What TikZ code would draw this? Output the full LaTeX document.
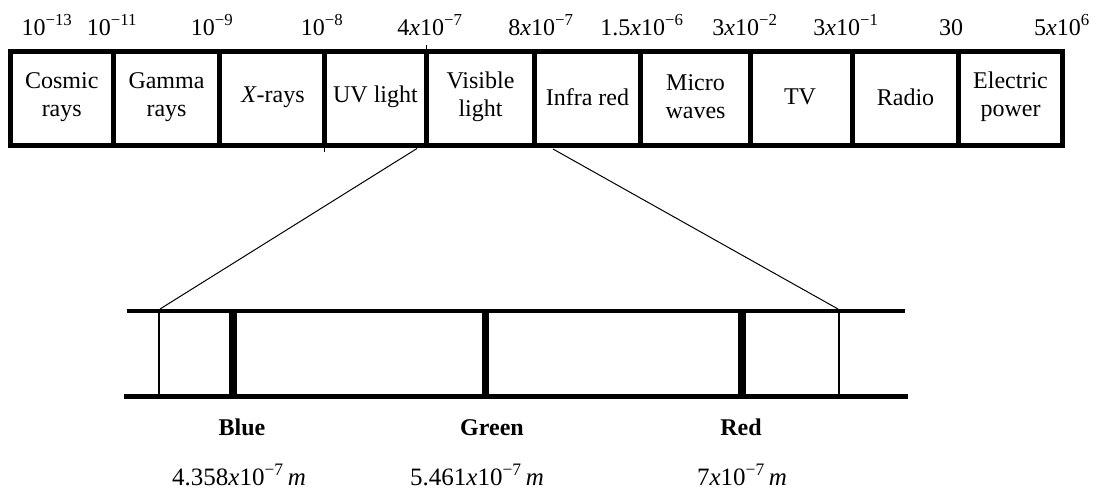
\documentclass[tikz,border=0pt]{standalone}
\usepackage{fontspec}
\setmainfont{Liberation Serif}
\newcommand{\mysci}[2]{#1\textit{x}10\textsuperscript{#2}}
\begin{document}
\begin{tikzpicture}[x=1pt,y=-1pt,
  frame/.style={line width=5pt,line join=miter},
  tick/.style={line width=1.5pt},
  lbl/.style={font=\fontsize{24}{28}\selectfont,anchor=base,inner sep=0pt},
  cell/.style={font=\fontsize{24}{28}\selectfont,align=center,inner sep=0pt},
  band/.style={line width=4.5pt},
  bar/.style={line width=7.5pt},
  thinln/.style={line width=1.2pt},
  zoomln/.style={line width=1pt},
  colname/.style={font=\fontsize{24}{28}\selectfont\bfseries,anchor=base,inner sep=0pt},
  wl/.style={font=\fontsize{25}{28}\selectfont,anchor=base,inner sep=0pt}]
\useasboundingbox (0,0) rectangle (1096,490);
% top spectrum box
\draw[frame] (10,51) rectangle (1062.5,145.5);
\foreach \xx in {113.5,219.5,324.5,426.5,534.5,640.5,750.5,852.5,958.5}
  \draw[frame] (\xx,51) -- (\xx,145.5);
\draw[tick] (426.5,45) -- (426.5,49);
\draw[tick] (324.5,147) -- (324.5,152);
% cell texts
\node[cell] (cosmic) at (61.75,97) {Cosmic\\rays};
\node[cell] (gamma) at (166.5,97) {Gamma\\rays};
\node[cell] (xray) at (273,97) {\textit{X}-rays};
\node[cell] (uv) at (375.5,97) {UV light};
\node[cell] (vis) at (480.5,97) {Visible\\light};
\node[cell] (ir) at (587.5,97) {Infra red};
\node[cell] (micro) at (695.5,97) {Micro\\waves};
\node[cell] (tv) at (800,97) {TV};
\node[cell] (radio) at (905.5,97) {Radio};
\node[cell] (elec) at (1010.5,97) {Electric\\power};
% wavelength labels
\node[lbl] (l1) at (47,35) {10\textsuperscript{−13}};
\node[lbl] (l2) at (112,35) {10\textsuperscript{−11}};
\node[lbl] (l3) at (212,35) {10\textsuperscript{−9}};
\node[lbl] (l4) at (322,35) {10\textsuperscript{−8}};
\node[lbl] (l5) at (430,35) {\mysci{4}{−7}};
\node[lbl] (l6) at (541,35) {\mysci{8}{−7}};
\node[lbl] (l7) at (642,35) {\mysci{1.5}{−6}};
\node[lbl] (l8) at (745,35) {\mysci{3}{−2}};
\node[lbl] (l9) at (846,35) {\mysci{3}{−1}};
\node[lbl] (l10) at (951,35) {30};
\node[lbl] (l11) at (1062,35) {\mysci{5}{6}};
% zoom lines
\coordinate (vL) at (417,148.5);
\coordinate (vR) at (553,149);
\coordinate (bL) at (160,309);
\coordinate (bR) at (838,309);
\draw[zoomln] (vL) -- (bL);
\draw[zoomln] (vR) -- (bR);
% bottom band
\draw[band] (127,311) -- (905,311);
\draw[band] (124,396.5) -- (908,396.5);
\draw[thinln] (159,311) -- (159,396.5);
\draw[thinln] (839,311) -- (839,396.5);
\draw[bar] (233,311) -- (233,396.5);
\draw[bar] (485.5,311) -- (485.5,396.5);
\draw[bar] (742,311) -- (742,396.5);
% colour labels
\node[colname] (blue) at (242,435) {Blue};
\node[colname] (green) at (492,435) {Green};
\node[colname] (red) at (741,435) {Red};
\node[wl] (wb) at (239,485) {\mysci{4.358}{−7}\,\textit{m}};
\node[wl] (wg) at (477,485) {\mysci{5.461}{−7}\,\textit{m}};
\node[wl] (wr) at (742,485) {\mysci{7}{−7}\,\textit{m}};
\end{tikzpicture}
\end{document}
